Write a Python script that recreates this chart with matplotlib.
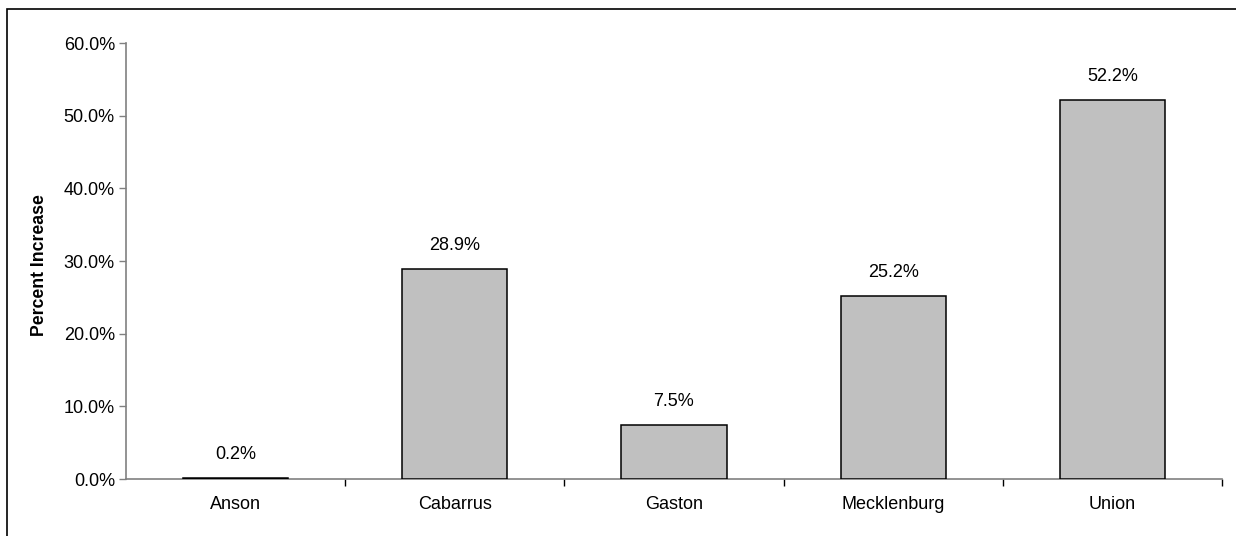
import matplotlib.pyplot as plt
from matplotlib.patches import Rectangle
from matplotlib.ticker import FuncFormatter, MultipleLocator

counties = ['Anson', 'Cabarrus', 'Gaston', 'Mecklenburg', 'Union']
pct_increase = [0.2, 28.9, 7.5, 25.2, 52.2]

plt.rcParams['font.family'] = ['Liberation Sans', 'DejaVu Sans']

W, H = 1236, 536
fig = plt.figure(figsize=(W / 100, H / 100), dpi=100)

# outer chart frame, running off the right and bottom edges
fig.patches.append(Rectangle((7 / W, -0.05), 1.2, 1 - 9 / H + 0.05,
                             transform=fig.transFigure, fill=False,
                             edgecolor='black', linewidth=1.2))

ax = fig.add_axes([126 / W, 1 - 479 / H, (1222 - 126) / W, (479 - 43) / H])

x = range(len(counties))
bars = ax.bar(x, pct_increase, width=0.48, color='#C0C0C0',
              edgecolor='black', linewidth=1.1, zorder=3)
for b, v in zip(bars, pct_increase):
    ax.text(b.get_x() + b.get_width() / 2, v + 2.0, f'{v:.1f}%',
            ha='center', va='bottom', fontsize=13)

ax.set_xlim(-0.5, len(counties) - 0.5)
ax.set_ylim(0, 60)
ax.yaxis.set_major_locator(MultipleLocator(10))
ax.yaxis.set_major_formatter(FuncFormatter(lambda v, _: f'{v:.1f}%'))

ax.set_xticks(list(x))
ax.set_xticklabels(counties, fontsize=13)
ax.tick_params(axis='x', length=0, pad=12)
# category separators on the x axis
ax.set_xticks([i + 0.5 for i in range(len(counties))], minor=True)
ax.tick_params(axis='x', which='minor', length=5, color='black', width=1)
ax.tick_params(axis='y', length=5, color='#808080', width=1, labelsize=13, pad=3)

for s in ['top', 'right']:
    ax.spines[s].set_visible(False)
for s in ['left', 'bottom']:
    ax.spines[s].set_color('#808080')
    ax.spines[s].set_linewidth(1.2)

ax.set_ylabel('Percent Increase', fontsize=12.7, fontweight='bold')
ax.yaxis.set_label_coords(-78 / (1222 - 126), 0.49)

fig.savefig('out.png', dpi=100)
